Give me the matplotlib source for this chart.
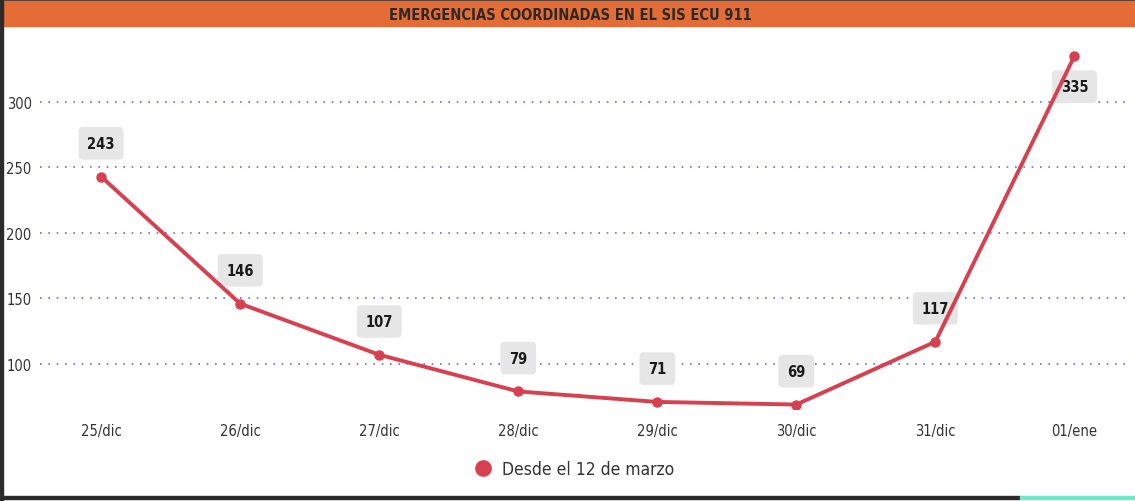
import matplotlib.pyplot as plt
from matplotlib.patches import Rectangle
from matplotlib.lines import Line2D

fechas = ["25/dic", "26/dic", "27/dic", "28/dic", "29/dic", "30/dic", "31/dic", "01/ene"]
emergencias = [243, 146, 107, 79, 71, 69, 117, 335]
serie = "Desde el 12 de marzo"
titulo = "EMERGENCIAS COORDINADAS EN EL SIS ECU 911"

rojo = "#d9404f"
naranja = "#e46c36"


def main():
    plt.rcParams["font.family"] = ["DejaVu Sans"]
    plt.rcParams["font.stretch"] = "condensed"
    fig = plt.figure(figsize=(11.35, 5.02), dpi=100)
    W, H = 1135, 502

    # header bar and frame
    fig.patches.append(Rectangle((0, 1 - 2 / H), 1, 2 / H, transform=fig.transFigure,
                                 color="#3a3a3a", zorder=0))
    fig.patches.append(Rectangle((3 / W, 1 - 27 / H), 1, 25 / H, transform=fig.transFigure,
                                 color=naranja, zorder=0))
    fig.patches.append(Rectangle((0, 0), 3 / W, 1, transform=fig.transFigure,
                                 color="#2b2b2b", zorder=0))
    fig.patches.append(Rectangle((0, 2 / H), 1020 / W, 3 / H, transform=fig.transFigure,
                                 color="#2b2b2b", zorder=0))
    fig.patches.append(Rectangle((1020 / W, 2 / H), 1, 3 / H, transform=fig.transFigure,
                                 color="#6fe8c8", zorder=0))
    fig.text(570 / W, 1 - 15 / H, titulo, ha="center", va="center", fontsize=10.5,
             fontweight="bold", color="#2a2a2a")

    ax = fig.add_axes([40 / W, 1 - 410 / H, 1090 / W, 380 / H])
    x = list(range(len(fechas)))
    ax.plot(x, emergencias, color=rojo, lw=2.8, marker="o", ms=6.5, zorder=3)

    for i, v in zip(x, emergencias):
        dy = -22 if v == max(emergencias) else 24
        ax.annotate(str(v), (i, v), xytext=(0, dy), textcoords="offset points",
                    ha="center", va="center", fontsize=10.5, fontweight="bold",
                    color="#1a1a1a", zorder=2,
                    bbox=dict(boxstyle="round,pad=0.6,rounding_size=0.3",
                              fc="#e6e6e6", ec="none"))

    ax.set_xlim(-0.44, 7.4)
    ax.set_ylim(65.6, 355.7)
    ax.set_yticks([100, 150, 200, 250, 300])
    ax.set_xticks(x)
    ax.set_xticklabels(fechas)
    ax.yaxis.grid(True, linestyle=(0, (1, 4)), color="#6c6ce0", lw=1.2)
    ax.set_axisbelow(True)
    for s in ax.spines.values():
        s.set_visible(False)
    ax.tick_params(length=0, labelsize=10.5, colors="#333333")
    ax.tick_params(axis="x", pad=10)
    ax.tick_params(axis="y", pad=6)

    h = Line2D([], [], color=rojo, marker="o", ms=11, lw=0)
    fig.legend([h], [serie], loc="center", bbox_to_anchor=(570 / W, 1 - 470 / H),
               frameon=False, fontsize=12.5, handletextpad=0.1, labelcolor="#333333")

    fig.savefig("out.png", dpi=100)


if __name__ == "__main__":
    main()
